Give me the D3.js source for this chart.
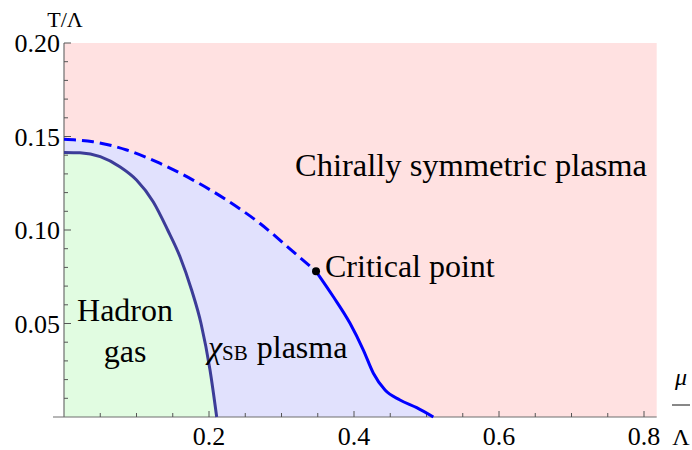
<!DOCTYPE html>
<html>
<head>
<meta charset="utf-8">
<script src="https://cdn.jsdelivr.net/npm/d3@7"></script>
</head>
<body style="margin:0">
<svg id="chart" width="692" height="450"></svg>
<script>
// tick labels
var xTickValues = [0.2, 0.4, 0.6, 0.8];
var xTickLabels = ["0.2", "0.4", "0.6", "0.8"];
var yTickValues = [0.05, 0.10, 0.15, 0.20];
var yTickLabels = ["0.05", "0.10", "0.15", "0.20"];

// hadron gas boundary (dark line)
var hadronMu = [0, 0.022, 0.050, 0.077, 0.100, 0.123, 0.143, 0.160, 0.176, 0.189, 0.2014, 0.2106];
var hadronT  = [0.1415, 0.1413, 0.1392, 0.1338, 0.1267, 0.1151, 0.100, 0.0857, 0.0679, 0.050, 0.0251, 0];

// crossover (dashed) up to the critical point
var crossMu = [0, 0.040, 0.0865, 0.132, 0.178, 0.2244, 0.270, 0.316, 0.3476];
var crossT  = [0.1485, 0.1472, 0.1428, 0.1357, 0.1267, 0.116, 0.1036, 0.0884, 0.0779];

// first order line (solid) from the critical point
var firstMu = [0.3476, 0.3715, 0.3945, 0.4129, 0.4267, 0.4428, 0.4634, 0.4865, 0.5094];
var firstT  = [0.0779, 0.0643, 0.0501, 0.0358, 0.0234, 0.0144, 0.0091, 0.005, 0];

var criticalMu = 0.3476, criticalT = 0.0779;

var FONT = "'Liberation Serif', monospace";

var svg = d3.select("#chart");

var x = d3.scaleLinear().domain([0, 0.8175]).range([64, 656.7]);
var y = d3.scaleLinear().domain([0, 0.2]).range([417, 43]);

function pts(mus, ts) {
  return mus.map(function(m, i) { return [m, ts[i]]; });
}
var hadron = pts(hadronMu, hadronT);
var cross = pts(crossMu, crossT);
var first = pts(firstMu, firstT);
var outer = cross.concat(first.slice(1));

// every label goes through here
function label(px, py, size, str) {
  var t = svg.append("text")
    .attr("class", "lbl")
    .attr("x", px).attr("y", py)
    .style("font-family", FONT)
    .style("font-size", size + "px");
  if (str) t.text(str);
  return t;
}

// background regions
svg.append("rect")
  .attr("x", x(0)).attr("y", y(0.2))
  .attr("width", x(0.8175) - x(0)).attr("height", y(0) - y(0.2))
  .attr("fill", "#ffe1e1");

var area = d3.area()
  .x(function(d) { return x(d[0]); })
  .y0(y(0))
  .y1(function(d) { return y(d[1]); })
  .curve(d3.curveMonotoneX);

svg.append("path").datum(outer).attr("d", area).attr("fill", "#e1e1fd");
svg.append("path").datum(hadron).attr("d", area).attr("fill", "#e1fce1");

// axes
var axisColor = "#6e6e6e";
svg.append("line")
  .attr("x1", 53).attr("x2", x(0.8175))
  .attr("y1", y(0)).attr("y2", y(0))
  .attr("stroke", axisColor).attr("stroke-width", 1.2);
svg.append("line")
  .attr("x1", x(0)).attr("x2", x(0))
  .attr("y1", y(0)).attr("y2", y(0.2))
  .attr("stroke", axisColor).attr("stroke-width", 1.2);

var xMinor = d3.range(0.05, 0.81, 0.05).filter(function(v) {
  return xTickValues.every(function(t) { return Math.abs(t - v) > 1e-6; });
});
var yMinor = d3.range(0.01, 0.2, 0.01).filter(function(v) {
  return yTickValues.every(function(t) { return Math.abs(t - v) > 1e-6; });
});

var ticks = svg.append("g").attr("stroke", "#555").attr("stroke-width", 1);
xMinor.forEach(function(v) {
  ticks.append("line").attr("x1", x(v)).attr("x2", x(v)).attr("y1", y(0)).attr("y2", y(0) - 4);
});
xTickValues.forEach(function(v) {
  ticks.append("line").attr("x1", x(v)).attr("x2", x(v)).attr("y1", y(0)).attr("y2", y(0) - 6);
});
yMinor.forEach(function(v) {
  ticks.append("line").attr("x1", x(0)).attr("x2", x(0) + 4).attr("y1", y(v)).attr("y2", y(v));
});
yTickValues.forEach(function(v) {
  ticks.append("line").attr("x1", x(0)).attr("x2", x(0) + 7).attr("y1", y(v)).attr("y2", y(v));
});

xTickValues.forEach(function(v, i) {
  label(x(v), 445, 26, xTickLabels[i]).attr("text-anchor", "middle");
});
yTickValues.forEach(function(v, i) {
  label(60, y(v) + 9, 26, yTickLabels[i]).attr("text-anchor", "end");
});

// axis titles
label(65, 27, 22, "T/Λ").attr("text-anchor", "middle");
label(681, 385, 24, "μ").attr("text-anchor", "middle").style("font-style", "italic");
svg.append("line").attr("x1", 672).attr("x2", 690).attr("y1", 405).attr("y2", 405)
  .attr("stroke", "#111").attr("stroke-width", 1);
label(681, 445, 24, "Λ").attr("text-anchor", "middle");

// phase boundaries
var line = d3.line()
  .x(function(d) { return x(d[0]); })
  .y(function(d) { return y(d[1]); })
  .curve(d3.curveMonotoneX);

svg.append("path").datum(hadron).attr("d", line)
  .attr("fill", "none").attr("stroke", "#3c3c98").attr("stroke-width", 3);
svg.append("path").datum(cross).attr("d", line)
  .attr("fill", "none").attr("stroke", "#0000ff").attr("stroke-width", 3)
  .attr("stroke-dasharray", "12,6");
svg.append("path").datum(first).attr("d", line)
  .attr("fill", "none").attr("stroke", "#0000ff").attr("stroke-width", 3);

svg.append("circle").attr("cx", x(criticalMu)).attr("cy", y(criticalT)).attr("r", 4)
  .attr("fill", "#000");

// region labels
label(325, 277, 32, "Critical point");
label(295, 176, 32.5, "Chirally symmetric plasma");
label(125, 321, 32, "Hadron").attr("text-anchor", "middle");
label(125, 362, 32, "gas").attr("text-anchor", "middle");

var chi = label(208, 358, 32);
chi.append("tspan").style("font-style", "italic").text("χ");
chi.append("tspan").attr("dy", 2).style("font-size", "21px").text("SB");
chi.append("tspan").attr("dy", -2).attr("dx", 9).text("plasma");

// serif face may come in late, set it again once it is there
if (document.fonts && document.fonts.load) {
  document.fonts.load("32px 'Liberation Serif'").then(function() {
    svg.selectAll(".lbl").style("font-family", null).style("font-family", FONT);
  });
}
</script>
</body>
</html>
